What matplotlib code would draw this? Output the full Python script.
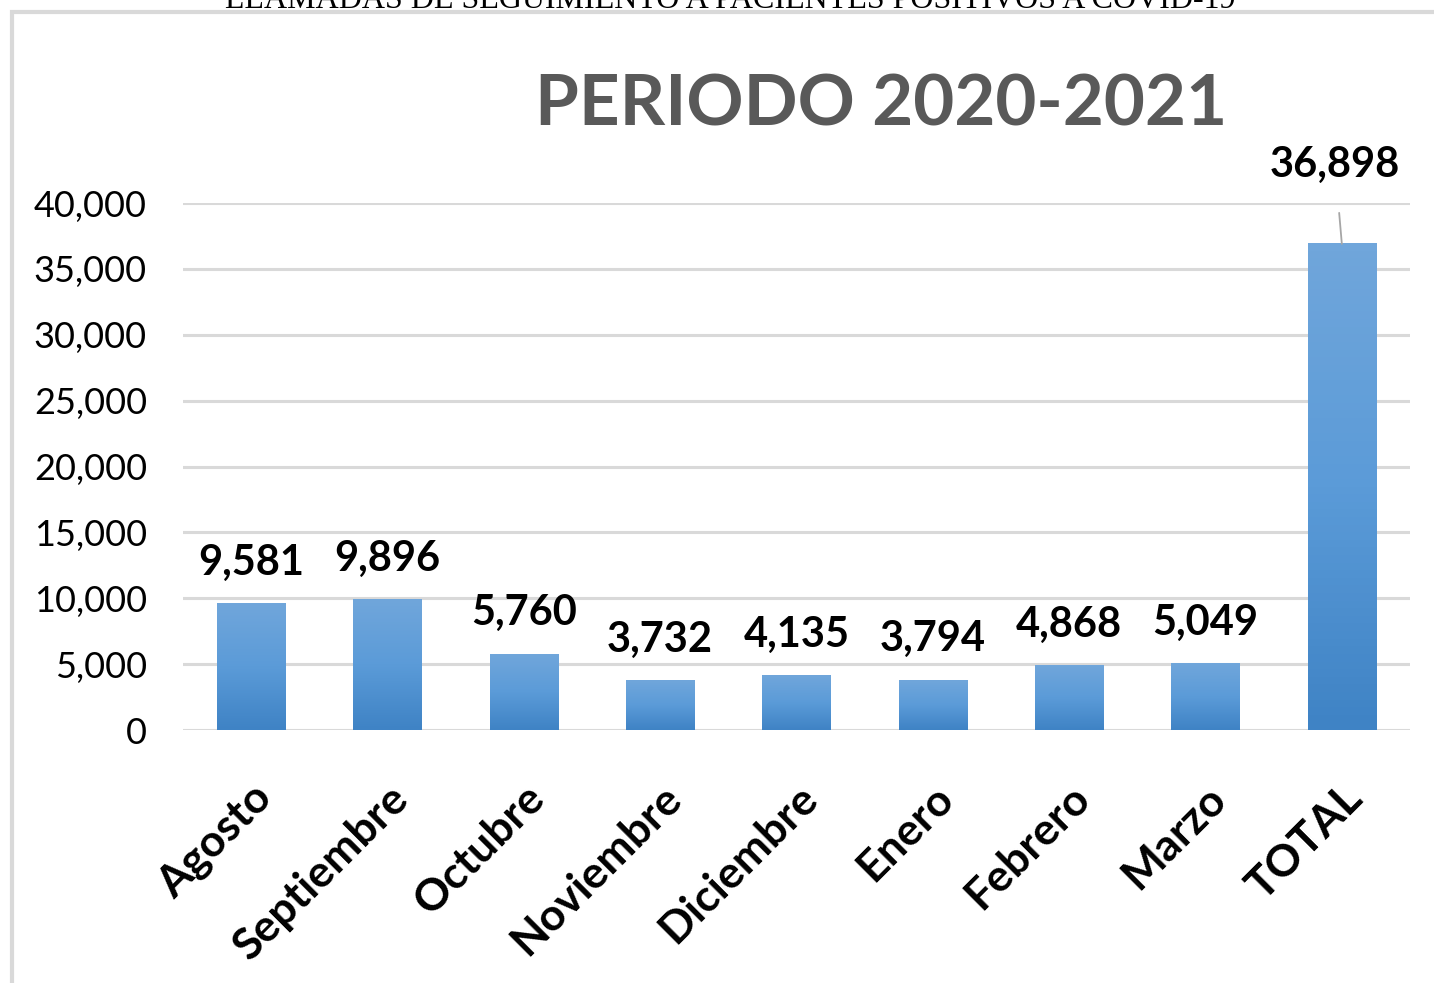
import numpy as np
import matplotlib.pyplot as plt
from matplotlib.patches import Rectangle
from matplotlib.colors import LinearSegmentedColormap

meses = ['Agosto', 'Septiembre', 'Octubre', 'Noviembre', 'Diciembre',
         'Enero', 'Febrero', 'Marzo', 'TOTAL']
llamadas = [9581, 9896, 5760, 3732, 4135, 3794, 4868, 5049, 36898]
ticks_y = [0, 5000, 10000, 15000, 20000, 25000, 30000, 35000, 40000]

titulo = 'PERIODO 2020-2021'
encabezado = 'LLAMADAS DE SEGUIMIENTO A PACIENTES POSITIVOS A COVID-19'

plt.rcParams['font.family'] = ['Lato', 'DejaVu Sans']

fig = plt.figure(figsize=(14.34, 9.83), dpi=100)

# frame around the chart area
fig.patches.append(Rectangle((12 / 1434, -0.05), 1.1, (983 - 12) / 983 + 0.05,
                             transform=fig.transFigure, fill=False,
                             edgecolor='#D9D9D9', linewidth=3))

# header cut off at the top of the picture
fig.text(730 / 1434, 1 - 8 / 983, encabezado, ha='center', va='baseline',
         fontsize=23, family='Liberation Serif', color='black')

ax = fig.add_axes([183 / 1434, 253 / 983, 1227 / 1434, 527 / 983])
ax.set_xlim(-0.5, len(meses) - 0.5)
ax.set_ylim(0, 40000)

grad = LinearSegmentedColormap.from_list('barras', ['#3F83C5', '#5B9BD8', '#70A6DB'])
ancho = 0.5
x = np.arange(len(meses))
for xi, v in zip(x, llamadas):
    ax.imshow(np.linspace(0, 1, 64).reshape(-1, 1), cmap=grad, origin='lower',
              extent=[xi - ancho / 2, xi + ancho / 2, 0, v], aspect='auto', zorder=3)
    if meses[xi] == 'TOTAL':
        ax.annotate(f'{v:,}', xy=(xi, v), xytext=(xi - 0.05, v + 6000),
                    ha='center', va='center', fontsize=30, fontweight='bold',
                    arrowprops=dict(arrowstyle='-', color='#A6A6A6', lw=1.3,
                                    shrinkA=19, shrinkB=0),
                    annotation_clip=False)
    else:
        ax.text(xi, v + 1650, f'{v:,}', ha='center', va='bottom',
                fontsize=30, fontweight='bold')

ax.set_yticks(ticks_y)
ax.set_yticklabels([f'{t:,}' for t in ticks_y], fontsize=26)
ax.yaxis.grid(True, color='#D9D9D9', linewidth=2.2, zorder=0)
ax.set_axisbelow(True)
ax.set_xticks(x)
ax.set_xticklabels(meses, rotation=45, ha='right', rotation_mode='anchor',
                   fontsize=32, fontweight='bold')
ax.tick_params(axis='both', length=0)
ax.tick_params(axis='y', pad=26)
ax.tick_params(axis='x', pad=34)
for s in ax.spines.values():
    s.set_visible(False)

fig.text(881 / 1434, 1 - 105 / 983, titulo, ha='center', va='center',
         fontsize=51, fontweight='bold', color='#595959')

fig.savefig('out.png', dpi=100)
